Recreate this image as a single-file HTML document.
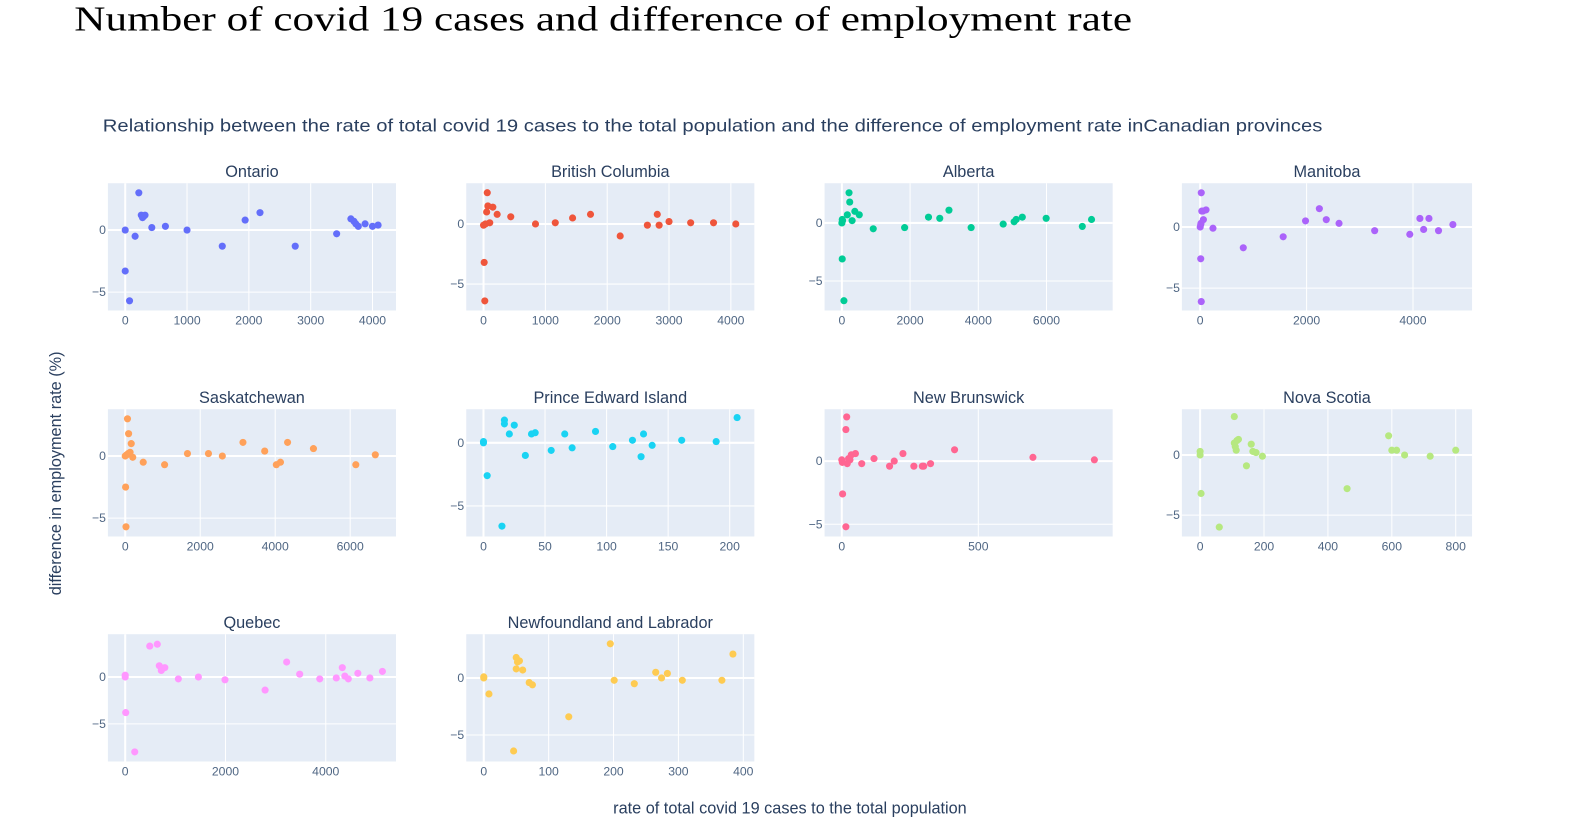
<!DOCTYPE html>
<html><head><meta charset="utf-8">
<style>
html,body{margin:0;padding:0;background:#fff;}
body{width:1592px;height:829px;overflow:hidden;}
svg text{font-family:"Liberation Sans","DejaVu Sans",sans-serif;}
</style></head>
<body>
<svg id="chart" width="1592" height="829" xmlns="http://www.w3.org/2000/svg">
<g transform="scale(1.018)">
<text x="73" y="30" textLength="1039" lengthAdjust="spacingAndGlyphs" style="font-family:'Liberation Serif',serif;font-size:34px;fill:#000">Number of covid 19 cases and difference of employment rate</text>
<text x="101" y="129" textLength="1198" lengthAdjust="spacingAndGlyphs" style="font-size:17px;fill:#2a3f5f">Relationship between the rate of total covid 19 cases to the total population and the difference of employment rate inCanadian provinces</text>
<text transform="translate(60,465) rotate(-90)" text-anchor="middle" style="font-size:16px;fill:#2a3f5f">difference in employment rate (%)</text>
<text x="776" y="799" text-anchor="middle" style="font-size:16px;fill:#2a3f5f">rate of total covid 19 cases to the total population</text>
<g id="panels"></g>
</g>
</svg>
<script>
const provinces = ["Ontario","British Columbia","Alberta","Manitoba","Saskatchewan","Prince Edward Island","New Brunswick","Nova Scotia","Quebec","Newfoundland and Labrador"];
const colors = ["#636efa","#EF553B","#00cc96","#ab63fa","#FFA15A","#19d3f3","#FF6692","#B6E880","#FF97FF","#FECB52"];
const xTicks = [[0,1000,2000,3000,4000],[0,1000,2000,3000,4000],[0,2000,4000,6000],[0,2000,4000],[0,2000,4000,6000],[0,50,100,150,200],[0,500],[0,200,400,600,800],[0,2000,4000],[0,100,200,300,400]];
const yTicks = [0,-5];
const xRanges = [[-280,4380],[-280,4380],[-507,7940],[-344,5110],[-462,7222],[-14,220],[-63,992],[-57,851],[-345,5401],[-27,417]];
const yRanges = [[-6.48,3.77],[-7.2,3.39],[-7.54,3.42],[-6.83,3.58],[-6.48,3.77],[-7.42,2.66],[-5.97,4.11],[-6.78,3.81],[-9.02,4.57],[-7.32,3.84]];
const onX = [0,0,70,160,220,260,280,300,320,430,650,1000,1570,1940,2180,2750,3420,3650,3700,3730,3770,3880,4000,4090];
const onY = [0,-3.3,-5.7,-0.5,3.0,1.2,1.0,1.1,1.2,0.2,0.3,0,-1.3,0.8,1.4,-1.3,-0.3,0.9,0.7,0.5,0.3,0.5,0.3,0.4];
const bcX = [0,10,20,30,50,60,70,100,150,220,440,840,1160,1440,1730,2210,2650,2810,2840,3000,3350,3720,4080];
const bcY = [-0.1,-3.2,-6.4,0,1.0,2.6,1.5,0.1,1.4,0.8,0.6,0,0.1,0.5,0.8,-1.0,-0.1,0.8,-0.1,0.2,0.1,0.1,0];
const abX = [0,10,20,10,60,160,210,230,300,380,510,920,1840,2540,2870,3140,3790,4730,5050,5110,5290,5990,7050,7320];
const abY = [0,0.3,0.2,-3.1,-6.7,0.7,2.6,1.8,0.2,1.0,0.7,-0.5,-0.4,0.5,0.4,1.1,-0.4,-0.1,0.1,0.3,0.5,0.4,-0.3,0.3];
const mbX = [0,10,15,10,20,20,30,50,60,110,240,810,1560,1980,2240,2370,2610,3280,3940,4130,4200,4300,4480,4750];
const mbY = [0,0.2,0.3,-2.6,-6.1,2.8,1.3,1.3,0.6,1.4,-0.1,-1.7,-0.8,0.5,1.5,0.6,0.3,-0.3,-0.6,0.7,-0.2,0.7,-0.3,0.2];
const skX = [0,10,20,40,60,80,90,130,160,200,480,1050,1660,2220,2590,3140,3720,4030,4140,4330,5020,6150,6670];
const skY = [0,-2.5,-5.7,0.1,3.0,0.2,1.8,0.3,1.0,-0.1,-0.5,-0.7,0.2,0.2,0,1.1,0.4,-0.7,-0.5,1.1,0.6,-0.7,0.1];
const peX = [0,0,3,15,17,17,21,25,34,39,42,55,66,72,91,105,121,128,130,137,161,189,206];
const peY = [0,0.1,-2.6,-6.6,1.8,1.5,0.7,1.4,-1.0,0.7,0.8,-0.6,0.7,-0.4,0.9,-0.3,0.2,-1.1,0.7,-0.2,0.2,0.1,2.0];
const nbX = [0,2,3,15,18,15,20,25,30,35,50,73,118,175,192,224,264,295,300,325,413,700,925];
const nbY = [0.1,-0.1,-2.6,2.5,3.5,-5.2,-0.2,0.2,0.1,0.5,0.6,-0.2,0.2,-0.4,0,0.6,-0.4,-0.4,-0.4,-0.2,0.9,0.3,0.1];
const nsX = [0,0,3,60,107,107,110,113,115,120,145,160,165,175,195,460,590,600,615,640,720,800];
const nsY = [0,0.3,-3.2,-6.0,3.2,1.0,0.7,0.4,1.2,1.3,-0.9,0.9,0.3,0.2,-0.1,-2.8,1.6,0.4,0.4,0,-0.1,0.4];
const qcX = [0,0,10,190,490,640,680,720,790,1060,1460,1990,2790,3220,3480,3880,4210,4330,4380,4450,4640,4880,5130];
const qcY = [0,0.2,-3.8,-8.0,3.3,3.5,1.2,0.7,1.0,-0.2,0,-0.3,-1.4,1.6,0.3,-0.2,-0.1,1.0,0.1,-0.2,0.4,-0.1,0.6];
const nlX = [0,0,8,46,50,50,52,55,60,70,75,131,195,201,232,265,274,283,306,367,384];
const nlY = [0,0.1,-1.4,-6.4,1.8,0.8,1.4,1.5,0.7,-0.4,-0.6,-3.4,3.0,-0.2,-0.5,0.5,0,0.4,-0.2,-0.2,2.1];
const seriesX = [onX,bcX,abX,mbX,skX,peX,nbX,nsX,qcX,nlX];
const seriesY = [onY,bcY,abY,mbY,skY,peY,nbY,nsY,qcY,nlY];

const NS = "http://www.w3.org/2000/svg";
const root = document.getElementById("panels");
const colL = [106,458,810,1161], colW = [283,283,283,285];
const rowT = [180,402,623], rowH = 125;
function mk(tag, attrs, parent){const e=document.createElementNS(NS,tag);for(const k in attrs)e.setAttribute(k,attrs[k]);parent.appendChild(e);return e;}
function fmt(v){return v<0?"\u2212"+Math.abs(v):String(v);}
provinces.forEach((name,i)=>{
  const c=i%4, r=Math.floor(i/4);
  const L=colL[c], W=colW[c], T=rowT[r], H=rowH;
  const [x0,x1]=xRanges[i], [y0,y1]=yRanges[i];
  const sx=v=>L+(v-x0)/(x1-x0)*W;
  const sy=v=>T+H-(v-y0)/(y1-y0)*H;
  const g=mk("g",{},root);
  
  
  const bg=mk("rect",{x:L,y:T,width:W,height:H,fill:"#e5ecf6"},g);
  
  
  const t=mk("text",{x:L+W/2,y:T-6,"text-anchor":"middle",style:"font-size:16px;fill:#2a3f5f"},g);
  t.textContent=name;
  
  
  xTicks[i].forEach(v=>{
    const x=sx(v);
    const ln=mk("line",{x1:x,x2:x,y1:T,y2:T+H,stroke:"#fff","stroke-width":v===0?2:1},g);
    
    
    const tx=mk("text",{x:x,y:T+H+14,"text-anchor":"middle",style:"font-size:12px;fill:#506784"},g);
    tx.textContent=String(v);
    
    
  });
  yTicks.forEach(v=>{
    const y=sy(v);
    const ln=mk("line",{x1:L,x2:L+W,y1:y,y2:y,stroke:"#fff","stroke-width":v===0?2:1},g);
    
    
    const tx=mk("text",{x:L-2,y:y+4,"text-anchor":"end",style:"font-size:12px;fill:#506784"},g);
    tx.textContent=fmt(v);
    
    
  });
  seriesX[i].forEach((xv,j)=>{
    const p=mk("circle",{cx:sx(xv),cy:sy(seriesY[i][j]),r:3.5,fill:colors[i]},g);
    
    
  });
});
</script>
</body></html>
